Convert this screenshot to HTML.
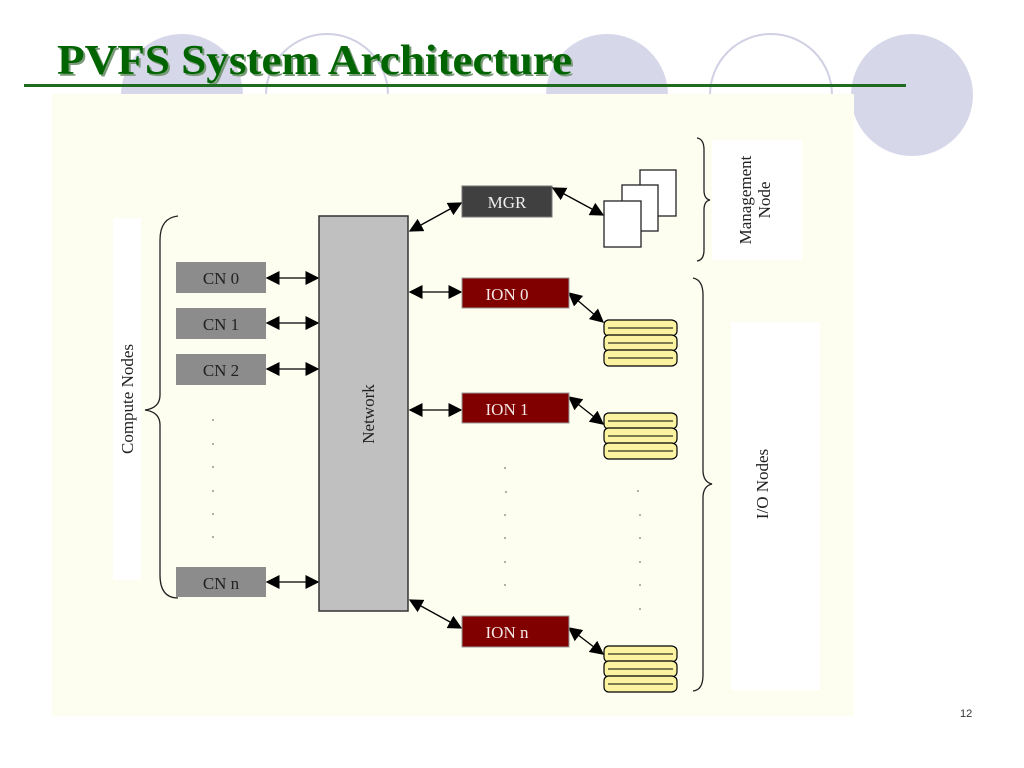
<!DOCTYPE html>
<html><head><meta charset="utf-8"><style>
html,body{margin:0;padding:0;background:#fff;width:1024px;height:768px;overflow:hidden}
svg{display:block}
.t{font-family:"Liberation Serif",serif;font-size:17px}
</style></head><body>
<svg width="1024" height="768" viewBox="0 0 1024 768" xmlns="http://www.w3.org/2000/svg">
<defs>
<marker id="a" viewBox="0 0 10 10" refX="9" refY="5" markerWidth="14" markerHeight="14" markerUnits="userSpaceOnUse" orient="auto-start-reverse"><path d="M0,0L10,5L0,10z" fill="#000"/></marker>
<g id="disk">
<path d="M4,0H68Q73,1 73,5V11Q73,15 68,16H4Q0,15 0,11V5Q0,1 4,0Z" fill="#fbf3a0" stroke="#000" stroke-width="1.2"/>
</g>
<g id="stack">
<use href="#disk" y="0"/><use href="#disk" y="15"/><use href="#disk" y="30"/>
<path d="M4,8H69M4,23H69M4,38H69" stroke="#000" stroke-width="1"/>
</g>
</defs>
<!-- background circles -->
<circle cx="182" cy="95" r="61" fill="#d7d7ea"/>
<circle cx="327" cy="95" r="61" fill="none" stroke="#d0d0e4" stroke-width="2"/>
<circle cx="607" cy="95" r="61" fill="#d7d7ea"/>
<circle cx="771" cy="95" r="61" fill="none" stroke="#d0d0e4" stroke-width="2"/>
<circle cx="912" cy="95" r="61" fill="#d7d7ea"/>
<!-- title -->
<text x="57" y="74" font-family="Liberation Serif,serif" font-weight="bold" font-size="42" fill="#7a9a7a" textLength="515" lengthAdjust="spacingAndGlyphs" transform="translate(2,2)">PVFS System Architecture</text>
<text x="57" y="74" font-family="Liberation Serif,serif" font-weight="bold" font-size="42" fill="#006400" textLength="515" lengthAdjust="spacingAndGlyphs">PVFS System Architecture</text>
<rect x="24" y="84" width="882" height="3" fill="#1f6b1f"/>
<!-- panel -->
<rect x="52" y="94" width="802" height="622" fill="#fdfdf0"/>
<!-- compute nodes label -->
<rect x="113" y="218" width="28" height="362" fill="#fff"/>
<text class="t" transform="translate(133,399) rotate(-90)" text-anchor="middle" fill="#222">Compute Nodes</text>
<path d="M178,216 Q160,218 160,240 V395 Q160,408 145,410 Q160,412 160,425 V575 Q160,598 178,598" fill="none" stroke="#222" stroke-width="1.3"/>
<!-- CN boxes -->
<g fill="#8c8c8c">
<rect x="176" y="262" width="90" height="31"/>
<rect x="176" y="308" width="90" height="31"/>
<rect x="176" y="354" width="90" height="31"/>
<rect x="176" y="567" width="90" height="30"/>
</g>
<g class="t" fill="#222" text-anchor="middle">
<text x="221" y="284">CN 0</text><text x="221" y="330">CN 1</text><text x="221" y="376">CN 2</text><text x="221" y="589">CN n</text>
</g>
<g stroke="#000" stroke-width="1.3" marker-start="url(#a)" marker-end="url(#a)">
<line x1="267" y1="278" x2="318" y2="278"/>
<line x1="267" y1="323" x2="318" y2="323"/>
<line x1="267" y1="369" x2="318" y2="369"/>
<line x1="267" y1="582" x2="318" y2="582"/>
</g>
<g fill="#555"><circle cx="213" cy="420" r=".8"/><circle cx="213" cy="444" r=".8"/><circle cx="213" cy="467" r=".8"/><circle cx="213" cy="491" r=".8"/><circle cx="213" cy="514" r=".8"/><circle cx="213" cy="537" r=".8"/></g>
<!-- network -->
<rect x="319" y="216" width="89" height="395" fill="#c0c0c0" stroke="#333" stroke-width="1.5"/>
<text class="t" transform="translate(374,414) rotate(-90)" text-anchor="middle" fill="#222">Network</text>
<!-- MGR -->
<rect x="462" y="186" width="90" height="31" fill="#404040" stroke="#777"/>
<text class="t" x="507" y="208" text-anchor="middle" fill="#eee">MGR</text>
<g stroke="#000" stroke-width="1.3" marker-start="url(#a)" marker-end="url(#a)">
<line x1="410" y1="231" x2="461" y2="203"/>
<line x1="553" y1="188" x2="603" y2="215"/>
<line x1="410" y1="292" x2="461" y2="292"/>
<line x1="569" y1="293" x2="603" y2="322"/>
<line x1="410" y1="410" x2="461" y2="410"/>
<line x1="569" y1="397" x2="603" y2="424"/>
<line x1="410" y1="600" x2="461" y2="628"/>
<line x1="569" y1="628" x2="603" y2="654"/>
</g>
<g fill="#fff" stroke="#222" stroke-width="1.3">
<rect x="640" y="170" width="36" height="46"/>
<rect x="622" y="185" width="36" height="46"/>
<rect x="604" y="201" width="37" height="46"/>
</g>
<!-- ION -->
<g fill="#800000" stroke="#999">
<rect x="462" y="278" width="107" height="30"/>
<rect x="462" y="393" width="107" height="30"/>
<rect x="462" y="616" width="107" height="31"/>
</g>
<g class="t" fill="#f4e8e8" text-anchor="middle">
<text x="507" y="300">ION 0</text><text x="507" y="415">ION 1</text><text x="507" y="638">ION n</text>
</g>
<use href="#stack" x="604" y="320"/>
<use href="#stack" x="604" y="413"/>
<use href="#stack" x="604" y="646"/>
<g fill="#555">
<circle cx="505" cy="468" r=".8"/><circle cx="506" cy="492" r=".8"/><circle cx="505" cy="515" r=".8"/><circle cx="505" cy="538" r=".8"/><circle cx="505" cy="562" r=".8"/><circle cx="505" cy="585" r=".8"/>
<circle cx="638" cy="491" r=".8"/><circle cx="640" cy="515" r=".8"/><circle cx="640" cy="538" r=".8"/><circle cx="640" cy="562" r=".8"/><circle cx="640" cy="585" r=".8"/><circle cx="640" cy="609" r=".8"/>
</g>
<!-- management node -->
<rect x="712" y="140" width="90" height="120" fill="#fff"/>
<path d="M697,138 Q704,139 704,150 V190 Q704,199 710,200 Q704,201 704,210 V250 Q704,260 697,261" fill="none" stroke="#222" stroke-width="1.3"/>
<text class="t" transform="translate(751,200) rotate(-90)" text-anchor="middle" fill="#222">Management</text>
<text class="t" transform="translate(770,200) rotate(-90)" text-anchor="middle" fill="#222">Node</text>
<!-- I/O nodes -->
<rect x="731" y="322" width="89" height="368" fill="#fff"/>
<path d="M693,278 Q703,280 703,295 V470 Q703,482 712,484 Q703,486 703,498 V675 Q703,690 693,691" fill="none" stroke="#222" stroke-width="1.3"/>
<text class="t" transform="translate(768,484) rotate(-90)" text-anchor="middle" fill="#222">I/O Nodes</text>
<text x="960" y="717" font-family="Liberation Sans,sans-serif" font-size="11" fill="#333">12</text>
</svg>
</body></html>
